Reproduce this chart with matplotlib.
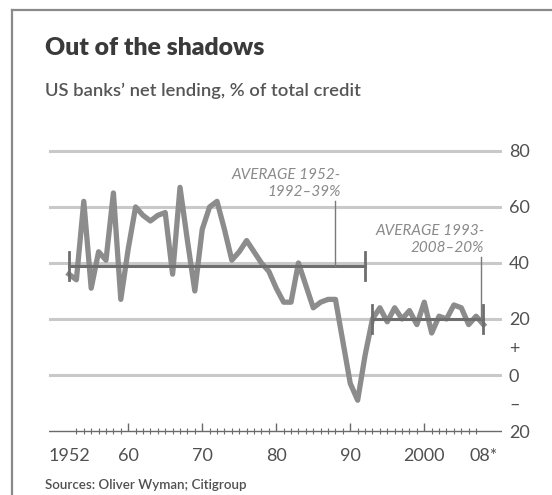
import matplotlib.pyplot as plt
from matplotlib.lines import Line2D

years = list(range(1952, 2009))
lending = [36, 34, 62, 31, 44, 41, 65, 27, 45, 60,
           57, 55, 57, 58, 36, 67, 48, 30, 52, 60,
           62, 52, 41, 44, 48, 44, 40, 37, 31, 26,
           26, 40, 32, 24, 26, 27, 27, 12, -3, -9,
           7, 20, 24, 19, 24, 20, 23, 18, 26, 15,
           21, 20, 25, 24, 18, 21, 18]

avg_spans = [(1952, 1992), (1993, 2008)]
avg_values = [39, 20]
avg_labels = ['AVERAGE 1952-\n1992\u201339%', 'AVERAGE 1993-\n2008\u201320%']

ytick_vals = [80, 60, 40, 20, 10, 0, -10, -20]
ytick_text = ['80', '60', '40', '20', '+', '0', '\u2013', '20']
xtick_vals = [1952, 1960, 1970, 1980, 1990, 2000, 2008]
xtick_text = ['1952', '60', '70', '80', '90', '2000', '08*']

plt.rcParams['font.family'] = ['Lato', 'DejaVu Sans']
txt = '#505050'

W, H = 552, 495
fig = plt.figure(figsize=(W / 100, H / 100), dpi=100)

# frame around the chart
fig.add_artist(Line2D([12 / W, 12 / W], [0, 1 - 10 / H], color='#8a8a8a', lw=1.6))
fig.add_artist(Line2D([12 / W, 1], [1 - 10 / H, 1 - 10 / H], color='#8a8a8a', lw=1.6))

fig.text(45 / W, 1 - 55 / H, 'Out of the shadows', fontsize=17.8, fontweight='heavy',
         color='#3a3a3a', va='baseline')
fig.text(45 / W, 1 - 96 / H, 'US banks\u2019 net lending, % of total credit', fontsize=13.2,
         fontweight='semibold', color='#555555', va='baseline')
fig.text(45 / W, 1 - 489 / H, 'Sources: Oliver Wyman; Citigroup', fontsize=9.6,
         fontweight='semibold', color=txt, va='baseline')

ax = fig.add_axes([49 / W, (H - 440) / H, (502 - 49) / W, 300 / H])
ax.set_xlim(1949.3, 2010.5)
ax.set_ylim(-23.2, 83.9)

for v in [80, 60, 40, 20, 0]:
    ax.axhline(v, color='#c9c9c9', lw=2.2, zorder=1)
ax.axhline(-20, color='#6a6a6a', lw=1.0, zorder=1)

ax.plot(years, lending, color='#8c8c8c', lw=3.8, solid_joinstyle='round', zorder=3)

# average bars with end caps
for (x0, x1), v in zip(avg_spans, avg_values):
    ax.plot([x0, x1], [v, v], color='#6e6e6e', lw=2.2, zorder=4)
    ax.plot([x0, x0], [v - 5, v + 5], color='#6e6e6e', lw=2.0, zorder=4)
    ax.plot([x1, x1], [v - 5, v + 5], color='#6e6e6e', lw=2.0, zorder=4)

# leader lines and labels
ax.plot([1988, 1988], [avg_values[0], 62], color='#7a7a7a', lw=1.0, zorder=4)
ax.text(1988.7, 63, avg_labels[0], ha='right', va='bottom', fontsize=11,
        style='italic', color='#8a8a8a', linespacing=1.2)
ax.plot([2007.6, 2007.6], [avg_values[1], 42], color='#7a7a7a', lw=1.0, zorder=4)
ax.text(2008.1, 43, avg_labels[1], ha='right', va='bottom', fontsize=11,
        style='italic', color='#8a8a8a', linespacing=1.2)

for s in ax.spines.values():
    s.set_visible(False)
ax.spines['bottom'].set_position(('data', -20))

ax.yaxis.tick_right()
ax.set_yticks(ytick_vals)
ax.set_yticklabels(ytick_text)
ax.tick_params(axis='y', length=0, pad=5, labelsize=13, labelcolor=txt)

ax.set_xticks(xtick_vals)
ax.set_xticklabels(xtick_text)
ax.set_xticks(years, minor=True)
ax.tick_params(axis='x', which='major', direction='in', length=6, width=1.0,
               color='#6a6a6a', pad=12, labelsize=13, labelcolor=txt)
ax.tick_params(axis='x', which='minor', direction='inout', length=4, width=0.8,
               color='#6a6a6a')
# end years only get the small tick
majors = ax.xaxis.get_major_ticks()
majors[0].tick1line.set_visible(False)
majors[-1].tick1line.set_visible(False)

fig.savefig('out.png', dpi=100)
